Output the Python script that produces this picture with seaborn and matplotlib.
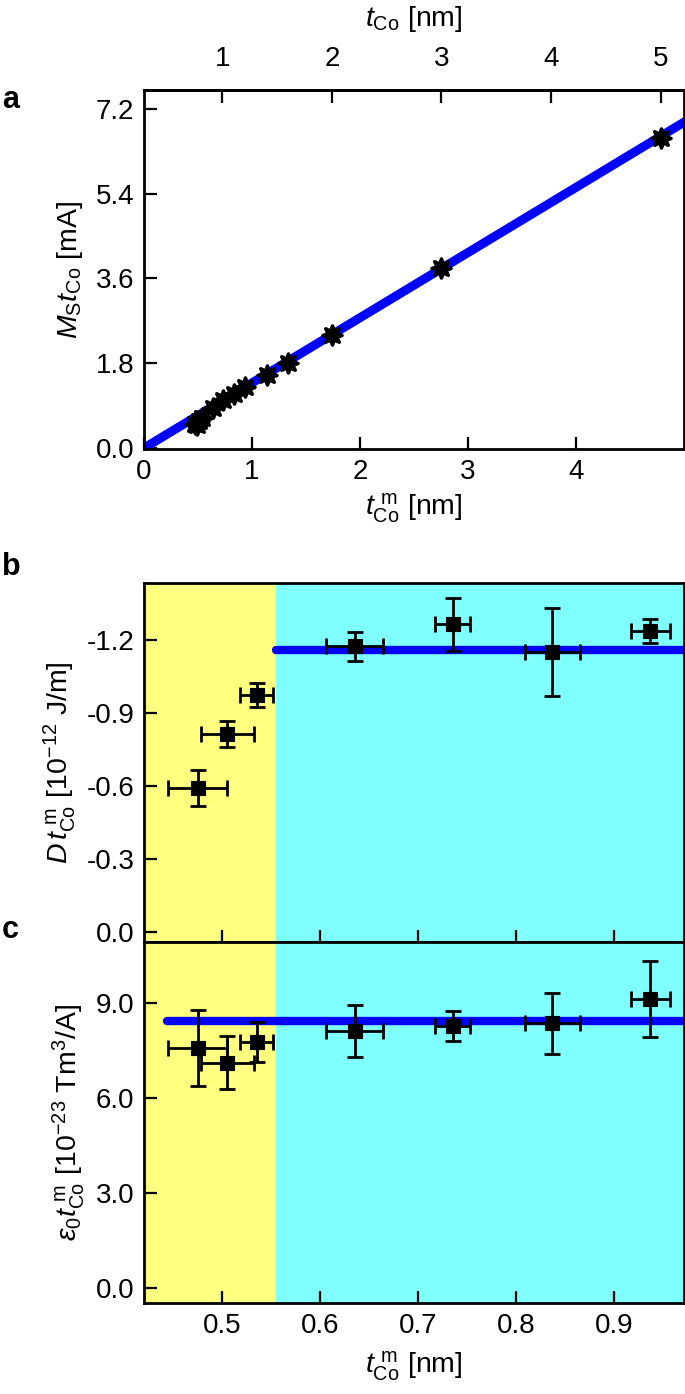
import numpy as np
import matplotlib
matplotlib.use('Agg')
import matplotlib.pyplot as plt
import seaborn as sns

# ---- data ----
# panel a: Ms*t vs measured thickness
a_tm = [0.475, 0.49, 0.505, 0.535, 0.635, 0.735, 0.835, 0.935, 1.135, 1.335, 1.74, 2.755, 4.785]
a_mst = [0.52, 0.50, 0.58, 0.64, 0.85, 1.03, 1.14, 1.30, 1.56, 1.80, 2.39, 3.82, 6.57]
a_fit_x = [0.0, 5.1]
a_fit_y = [0.0, 7.05]
top_ticks = [1, 2, 3, 4, 5]

# panels b and c share thickness values
bc_tm = [0.475, 0.505, 0.535, 0.635, 0.735, 0.837, 0.937]
bc_tm_err = [0.030, 0.027, 0.017, 0.029, 0.018, 0.028, 0.020]

b_dt = [-0.59, -0.813, -0.974, -1.174, -1.265, -1.15, -1.237]
b_dt_err = [0.074, 0.054, 0.05, 0.061, 0.11, 0.18, 0.05]
b_fit_x = [0.555, 0.975]
b_fit_y = [-1.16, -1.16]

c_et = [7.58, 7.12, 7.78, 8.13, 8.28, 8.37, 9.14]
c_et_err = [1.2, 0.84, 0.62, 0.83, 0.47, 0.97, 1.2]
c_fit_x = [0.443, 0.975]
c_fit_y = [8.45, 8.45]

region_edges = [0.38, 0.555, 1.0]
region_colors = ['#FFFF80', '#80FFFF']

sns.set_style('ticks')
plt.rcParams['font.family'] = ['Liberation Sans', 'DejaVu Sans']
plt.rcParams['mathtext.fontset'] = 'custom'
plt.rcParams['mathtext.rm'] = 'Liberation Sans'
plt.rcParams['mathtext.it'] = 'Liberation Sans:italic'
plt.rcParams['mathtext.bf'] = 'Liberation Sans:bold'
plt.rcParams['axes.unicode_minus'] = False
plt.rcParams['font.size'] = 20
plt.rcParams['axes.linewidth'] = 2.0
for k in ['text.color', 'axes.labelcolor', 'xtick.color', 'ytick.color', 'axes.edgecolor']:
    plt.rcParams[k] = 'black'

TICK_FS = 20
LABEL_FS = 20.5

fig = plt.figure(figsize=(6.85, 13.94), dpi=100)
ax_a = fig.add_axes([0.2102, 0.6779, 0.788, 0.2576])
ax_b = fig.add_axes([0.2102, 0.3242, 0.788, 0.2576])
ax_c = fig.add_axes([0.2102, 0.0653, 0.788, 0.2589], sharex=ax_b)

tick_kw = dict(direction='in', length=9, width=1.6, labelsize=TICK_FS, pad=7, color='black',
               labelcolor='black')

# ---- panel a ----
sns.lineplot(x=a_fit_x, y=a_fit_y, ax=ax_a, color='#0000FF', lw=6.5, zorder=2)
sns.scatterplot(x=a_tm, y=a_mst, ax=ax_a, marker=(8, 1, 0), s=190, color='black',
                edgecolor='black', linewidth=2.5, zorder=3)
ax_a.set_xlim(0, 5.0)
ax_a.set_ylim(-0.02, 7.6)
ax_a.set_xticks([0, 1, 2, 3, 4])
ax_a.set_yticks([0.0, 1.8, 3.6, 5.4, 7.2])
ax_a.set_yticklabels(['0.0', '1.8', '3.6', '5.4', '7.2'])
ax_a.tick_params(axis='both', **tick_kw)
ax_a.set_xlabel(r'$t_{\rm Co}^{\ \rm m}$ [nm]', fontsize=LABEL_FS, labelpad=5)
ax_a.set_ylabel(r'$M_{\rm S}t_{\rm Co}$ [mA]', fontsize=LABEL_FS, labelpad=8)

sec = ax_a.secondary_xaxis('top', functions=(lambda tm: (tm + 0.29) / 1.015,
                                             lambda t: 1.015 * t - 0.29))
sec.set_xticks(top_ticks)
sec.tick_params(axis='x', direction='in', length=9, width=1.6, labelsize=TICK_FS, pad=13,
                color='black', labelcolor='black')
sec.set_xlabel(r'$t_{\rm Co}$ [nm]', fontsize=LABEL_FS, labelpad=14)
for s in sec.spines.values():
    s.set_linewidth(2.0)
    s.set_color('black')

# ---- panels b and c ----
for ax in (ax_b, ax_c):
    for i, col in enumerate(region_colors):
        ax.axvspan(region_edges[i], region_edges[i + 1], color=col, lw=0, zorder=0)

sns.lineplot(x=b_fit_x, y=b_fit_y, ax=ax_b, color='#0000FF', lw=6, zorder=2,
             solid_capstyle='round')
ax_b.errorbar(bc_tm, b_dt, xerr=bc_tm_err, yerr=b_dt_err, fmt='none', ecolor='black',
              elinewidth=2, capsize=6, capthick=2, zorder=3)
sns.scatterplot(x=bc_tm, y=b_dt, ax=ax_b, marker='s', s=100, color='black',
                edgecolor='black', zorder=4)
ax_b.set_ylim(0.043, -1.435)
ax_b.set_yticks([0.0, -0.3, -0.6, -0.9, -1.2])
ax_b.set_yticklabels(['0.0', '-0.3', '-0.6', '-0.9', '-1.2'])
ax_b.tick_params(axis='both', **tick_kw)
ax_b.tick_params(axis='x', labelbottom=False)
ax_b.set_ylabel(r'$D\,t_{\rm Co}^{\ \rm m}$ [10$^{-12}$ J/m]', fontsize=LABEL_FS, labelpad=6)

sns.lineplot(x=c_fit_x, y=c_fit_y, ax=ax_c, color='#0000FF', lw=6, zorder=2,
             solid_capstyle='round')
ax_c.errorbar(bc_tm, c_et, xerr=bc_tm_err, yerr=c_et_err, fmt='none', ecolor='black',
              elinewidth=2, capsize=6, capthick=2, zorder=3)
sns.scatterplot(x=bc_tm, y=c_et, ax=ax_c, marker='s', s=100, color='black',
                edgecolor='black', zorder=4)
ax_c.set_xlim(0.42, 0.971)
ax_c.set_xticks([0.5, 0.6, 0.7, 0.8, 0.9])
ax_c.set_ylim(-0.48, 10.94)
ax_c.set_yticks([0.0, 3.0, 6.0, 9.0])
ax_c.set_yticklabels(['0.0', '3.0', '6.0', '9.0'])
ax_c.tick_params(axis='both', **tick_kw)
ax_c.set_xlabel(r'$t_{\rm Co}^{\ \rm m}$ [nm]', fontsize=LABEL_FS, labelpad=8)
ax_c.set_ylabel(r'$\varepsilon_0 t_{\rm Co}^{\ \rm m}$ [10$^{-23}$ Tm$^3$/A]', fontsize=LABEL_FS,
                labelpad=6)

for ax in (ax_a, ax_b, ax_c):
    for s in ax.spines.values():
        s.set_visible(True)
        s.set_linewidth(2.0)
        s.set_color('black')
        s.set_zorder(5)

fig.text(0.003, 0.928, 'a', fontsize=22, fontweight='bold', va='center')
fig.text(0.003, 0.593, 'b', fontsize=22, fontweight='bold', va='center')
fig.text(0.003, 0.333, 'c', fontsize=22, fontweight='bold', va='center')

fig.savefig('out.png', dpi=100)
